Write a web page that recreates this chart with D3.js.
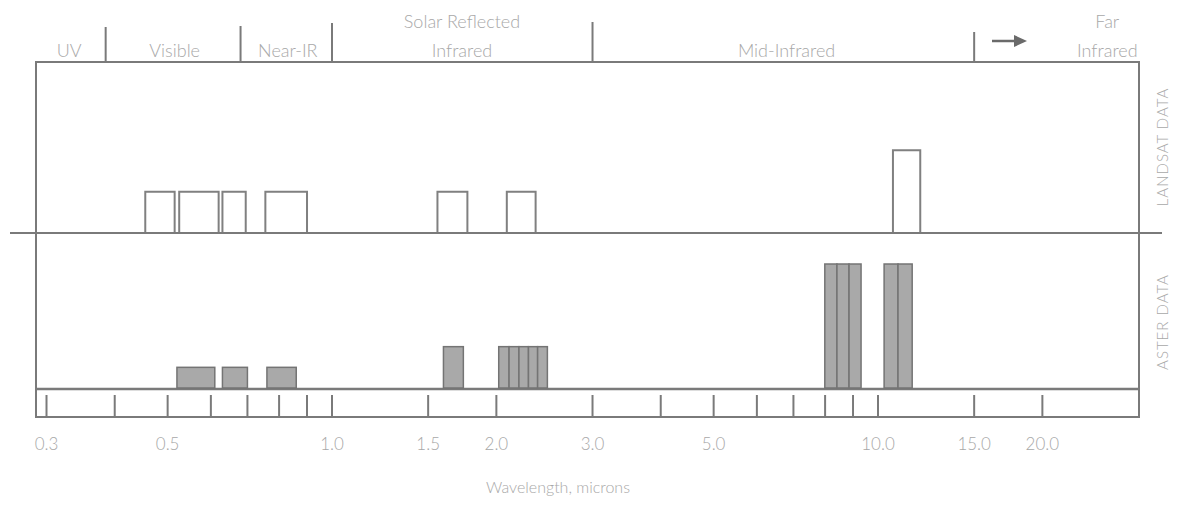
<!DOCTYPE html>
<html>
<head>
<meta charset="utf-8">
<script src="https://cdn.jsdelivr.net/npm/d3@7"></script>
<style>
  body { margin: 0; background: #fff; }
  text { font-family: "Lato", "DejaVu Sans", sans-serif; font-weight: 300; fill: #a8a8a8; }
</style>
</head>
<body>
<script>
// band edges in microns
var landsatBands = [
  [0.455, 0.515], [0.525, 0.62], [0.63, 0.695], [0.755, 0.90],
  [1.56, 1.77], [2.09, 2.36], [10.65, 11.95]
];
var landsatLevel = [2, 2, 2, 2, 2, 2, 4];

var asterBands = [
  [0.52, 0.61], [0.63, 0.70], [0.76, 0.86],
  [1.60, 1.74],
  [2.02, 2.11], [2.11, 2.20], [2.20, 2.29], [2.29, 2.38], [2.38, 2.48],
  [7.99, 8.41], [8.41, 8.85], [8.85, 9.31],
  [10.26, 10.88], [10.88, 11.55]
];
var asterLevel = [1, 1, 1, 2, 2, 2, 2, 2, 2, 6, 6, 6, 6, 6];

var tickValues = [0.3, 0.4, 0.5, 0.6, 0.7, 0.8, 0.9, 1, 1.5, 2, 3, 4, 5, 6, 7, 8, 9, 10, 15, 20];
var tickLabels = [[0.3, "0.3"], [0.5, "0.5"], [1, "1.0"], [1.5, "1.5"], [2, "2.0"],
  [3, "3.0"], [5, "5.0"], [10, "10.0"], [15, "15.0"], [20, "20.0"]];

// spectral regions: divider wavelengths and labels
var regionEdges = [0.385, 0.68, 1.0, 3.0, 15];
var regionLabels = [
  [0.33, ["UV"]], [0.515, ["Visible"]], [0.83, ["Near-IR"]],
  [1.73, ["Solar Reflected", "Infrared"]], [6.8, ["Mid-Infrared"]], [26.3, ["Far", "Infrared"]]
];

var width = 1188, height = 506;
var line = "#7a7a7a";

var svg = d3.select("body").append("svg")
  .attr("width", width)
  .attr("height", height);

var x = d3.scaleLog().domain([0.287, 30.06]).range([36, 1139]);
var h = d3.scaleLinear().domain([0, 6]).range([0, 124]);

var frameTop = 62, mid = 233, base = 389, frameBottom = 417;

// frame
svg.append("rect")
  .attr("x", x.range()[0]).attr("y", frameTop)
  .attr("width", x.range()[1] - x.range()[0]).attr("height", frameBottom - frameTop)
  .attr("fill", "none").attr("stroke", line).attr("stroke-width", 2);
svg.append("line")
  .attr("x1", 10).attr("x2", 1162).attr("y1", mid).attr("y2", mid)
  .attr("stroke", line).attr("stroke-width", 2);
svg.append("line")
  .attr("x1", x.range()[0]).attr("x2", x.range()[1]).attr("y1", base).attr("y2", base)
  .attr("stroke", line).attr("stroke-width", 2.5);

// landsat bands (outlined)
svg.selectAll(".landsat")
  .data(landsatBands)
  .enter()
  .append("path")
  .attr("class", "landsat")
  .attr("d", function(d, i){
    var y0 = mid - 1, y1 = mid - h(landsatLevel[i]);
    return "M" + x(d[0]) + "," + y0 + "V" + y1 + "H" + x(d[1]) + "V" + y0;
  })
  .attr("fill", "#fff")
  .attr("stroke", "#808080")
  .attr("stroke-width", 2);

// aster bands (filled)
svg.selectAll(".aster")
  .data(asterBands)
  .enter()
  .append("rect")
  .attr("class", "aster")
  .attr("x", function(d){ return x(d[0]); })
  .attr("width", function(d){ return x(d[1]) - x(d[0]); })
  .attr("y", function(d, i){ return base - 1 - h(asterLevel[i]); })
  .attr("height", function(d, i){ return h(asterLevel[i]); })
  .attr("fill", "#a9a9a9")
  .attr("stroke", "#747474")
  .attr("stroke-width", 1.5);

// ticks in bottom strip
svg.selectAll(".tick")
  .data(tickValues)
  .enter()
  .append("line")
  .attr("class", "tick")
  .attr("x1", function(d){ return x(d); })
  .attr("x2", function(d){ return x(d); })
  .attr("y1", 395).attr("y2", frameBottom)
  .attr("stroke", line).attr("stroke-width", 2);

svg.selectAll(".tlabel")
  .data(tickLabels)
  .enter()
  .append("text")
  .attr("class", "tlabel")
  .attr("x", function(d){ return x(d[0]); })
  .attr("y", 450)
  .attr("text-anchor", "middle")
  .style("font-size", "17px")
  .text(function(d){ return d[1]; });

svg.append("text")
  .attr("x", 558).attr("y", 493)
  .attr("text-anchor", "middle")
  .style("font-size", "16px")
  .text("Wavelength, microns");

// header dividers
var dividerTop = [27, 26, 23, 22, 32];
svg.selectAll(".divider")
  .data(regionEdges)
  .enter()
  .append("line")
  .attr("class", "divider")
  .attr("x1", function(d){ return x(d); })
  .attr("x2", function(d){ return x(d); })
  .attr("y1", function(d, i){ return dividerTop[i]; })
  .attr("y2", frameTop)
  .attr("stroke", line).attr("stroke-width", 2);

svg.selectAll(".region")
  .data(regionLabels)
  .enter()
  .append("text")
  .attr("class", "region")
  .attr("text-anchor", "middle")
  .style("font-size", "18px")
  .each(function(d){
    var t = d3.select(this);
    var n = d[1].length;
    d[1].forEach(function(s, k){
      t.append("tspan")
        .attr("x", x(d[0]))
        .attr("y", 57 - (n - 1 - k) * 29)
        .text(s);
    });
  });

// arrow toward far infrared
svg.append("line")
  .attr("x1", 992).attr("x2", 1016).attr("y1", 41).attr("y2", 41)
  .attr("stroke", "#6a6a6a").attr("stroke-width", 2.5);
svg.append("path")
  .attr("d", "M1014,35L1027,41L1014,47Z")
  .attr("fill", "#6a6a6a");

// side labels
svg.append("text")
  .attr("transform", "translate(1168,147) rotate(-90)")
  .attr("text-anchor", "middle")
  .style("font-size", "15px")
  .style("letter-spacing", "1px")
  .text("LANDSAT DATA");
svg.append("text")
  .attr("transform", "translate(1168,322) rotate(-90)")
  .attr("text-anchor", "middle")
  .style("font-size", "15px")
  .style("letter-spacing", "1px")
  .text("ASTER DATA");
</script>
</body>
</html>
